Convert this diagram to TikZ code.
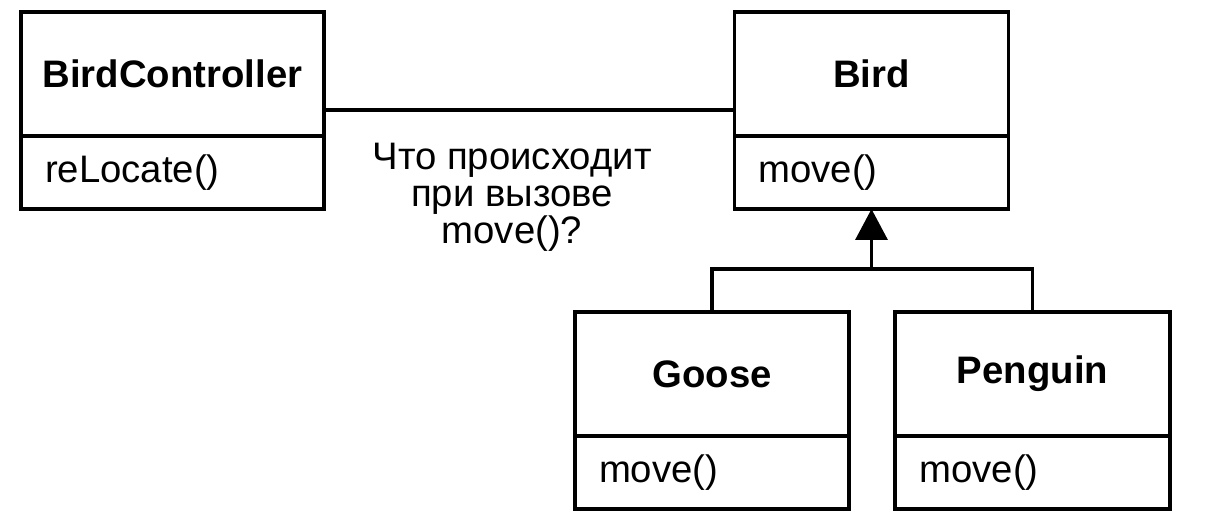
\documentclass[tikz,border=0pt]{standalone}
\usepackage{fontspec}
\setmainfont{Liberation Sans}
\usetikzlibrary{arrows.meta,positioning}

\begin{document}
\begin{tikzpicture}[
  font=\fontsize{10.9}{12.5}\selectfont,
  classname/.style={draw, line width=1pt, minimum width=2.74cm, minimum height=1.24cm, font=\fontsize{10.9}{12.5}\selectfont\bfseries, inner sep=0pt, outer sep=0pt},
  classop/.style={draw, line width=1pt, minimum width=2.74cm, minimum height=0.73cm, text width=2.26cm, inner xsep=0.24cm, inner ysep=0pt, outer sep=0pt, align=left},
  link/.style={line width=1pt},
  inherit/.style={-{Triangle[length=0.31cm, width=0.32cm]}, line width=1pt}
]
\useasboundingbox (0,0) rectangle (12.18,-5.2);

\node[classname, minimum width=3.03cm] (ctrlname) at (1.725,-0.74) {BirdController};
\node[classop, minimum width=3.03cm, text width=2.55cm, below=0pt of ctrlname] (ctrlop) {reLocate()};

\node[classname] (birdname) at (8.715,-0.74) {Bird};
\node[classop, below=0pt of birdname] (birdop) {move()};

\node[classname] (goosename) at (7.12,-3.74) {Goose};
\node[classop, below=0pt of goosename] (gooseop) {move()};

\node[classname, minimum width=2.75cm] (penguinname) at (10.325,-3.74) {Penguin};
\node[classop, minimum width=2.75cm, below=0pt of penguinname] (penguinop) {move()};

% association
\draw[link] ([yshift=-0.36cm]ctrlname.east) -- ([yshift=-0.36cm]birdname.west);
\node[align=center, font=\fontsize{10.9}{10.5}\selectfont] (question) at (5.12,-1.97)
  {Что происходит\\при вызове\\move()?};

% generalization
\coordinate (fork) at ([yshift=-0.6cm]birdop.south);
\draw[inherit] (fork) -- (birdop.south);
\draw[link] (goosename.north) |- (fork) -| (penguinname.north);

\end{tikzpicture}
\end{document}
